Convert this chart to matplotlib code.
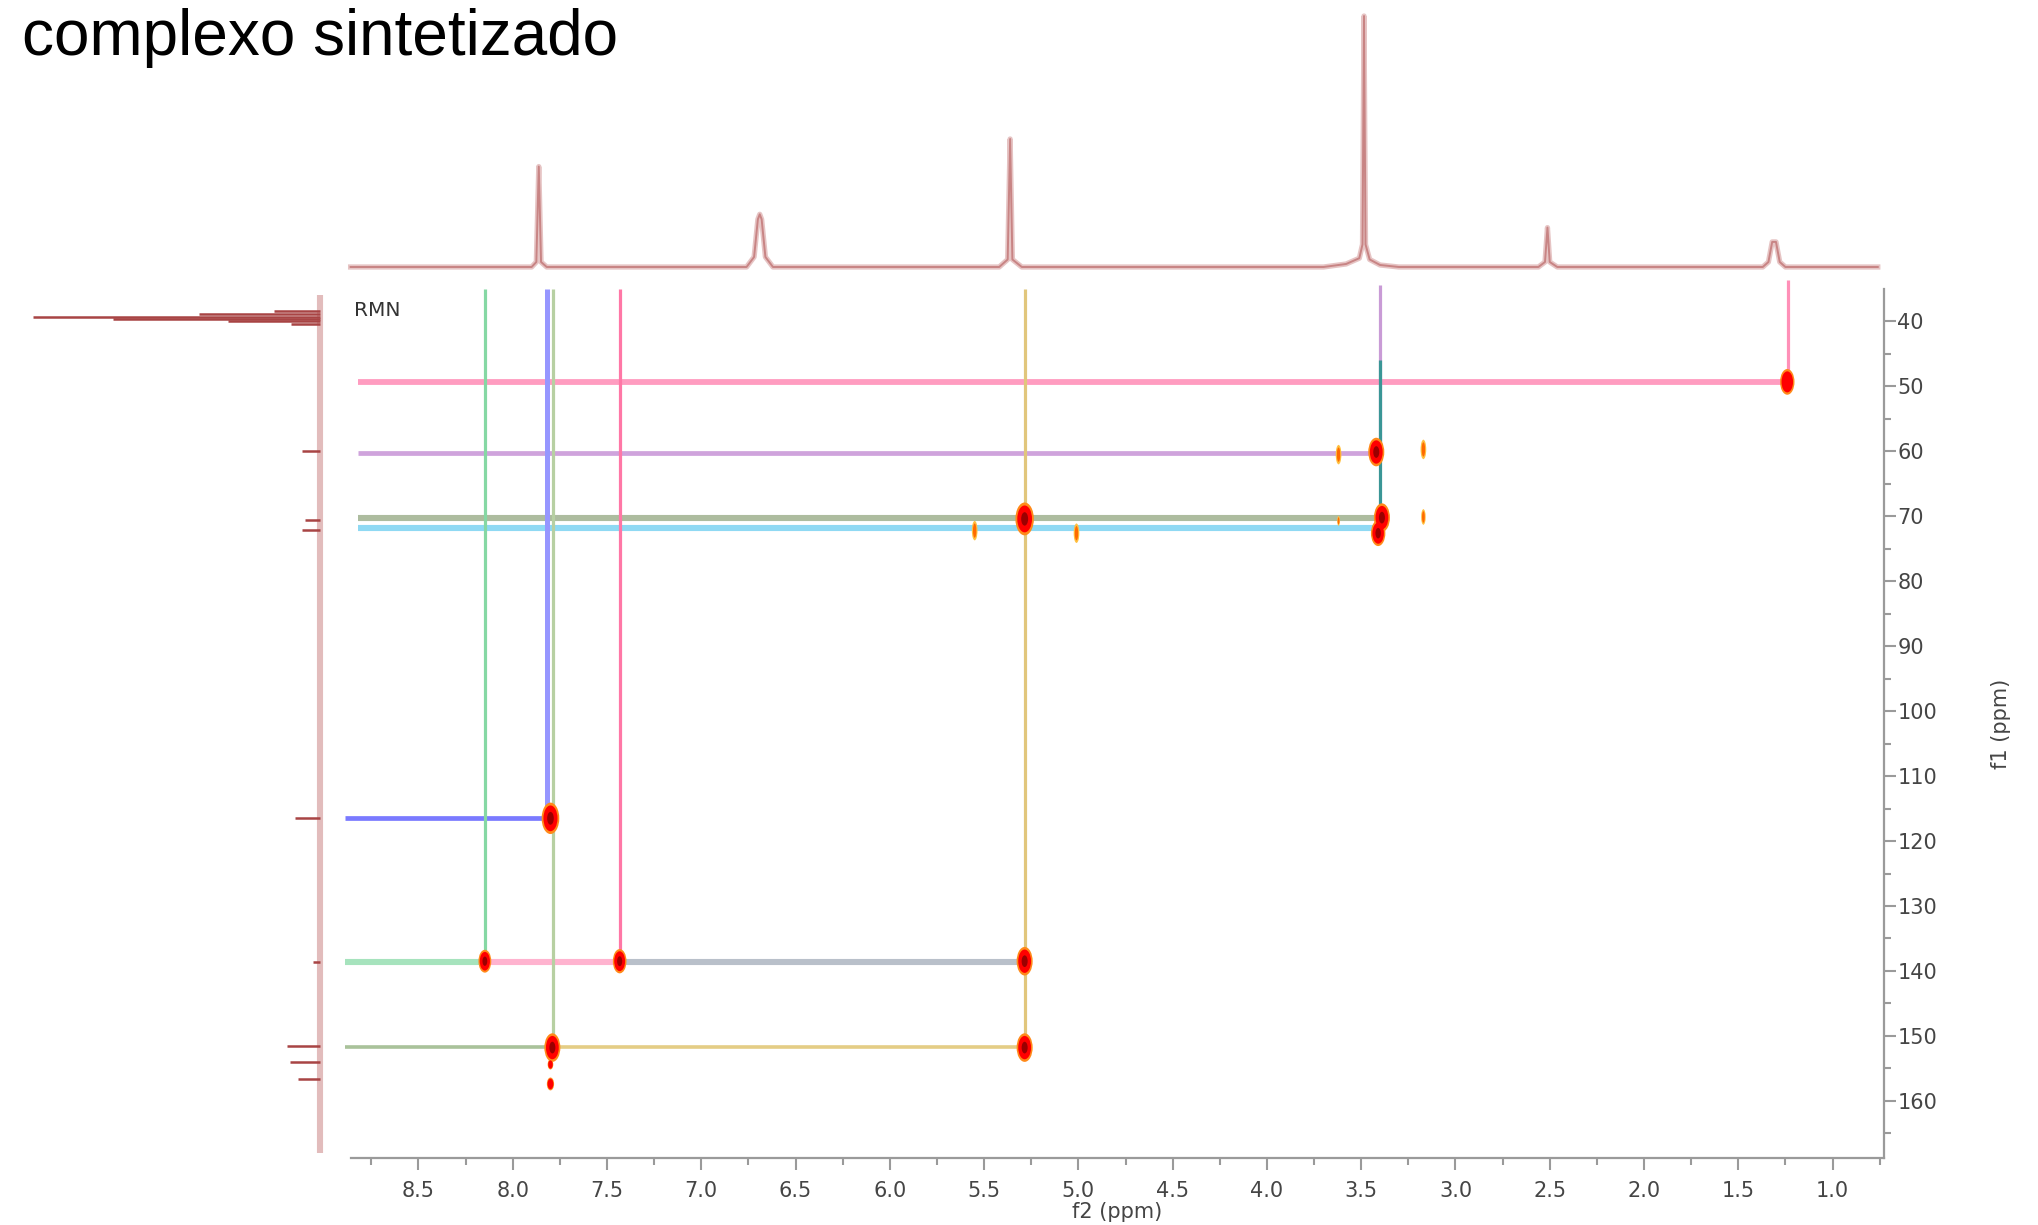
import numpy as np
import matplotlib
matplotlib.use("Agg")
import matplotlib.pyplot as plt
from matplotlib.patches import Ellipse

# ---------------- data ----------------
title_text = "complexo sintetizado"
xlabel_text = "f2 (ppm)"
ylabel_text = "f1 (ppm)"
corner_text = "RMN"

f2_major = [8.5, 8.0, 7.5, 7.0, 6.5, 6.0, 5.5, 5.0, 4.5, 4.0, 3.5, 3.0, 2.5, 2.0, 1.5, 1.0]
f2_labels = ["8.5", "8.0", "7.5", "7.0", "6.5", "6.0", "5.5", "5.0", "4.5", "4.0",
             "3.5", "3.0", "2.5", "2.0", "1.5", "1.0"]
f2_minor = [8.75, 8.25, 7.75, 7.25, 6.75, 6.25, 5.75, 5.25, 4.75, 4.25, 3.75, 3.25,
            2.75, 2.25, 1.75, 1.25, 0.75]
f1_major = [40, 50, 60, 70, 80, 90, 100, 110, 120, 130, 140, 150, 160]
f1_labels = ["40", "50", "60", "70", "80", "90", "100", "110", "120", "130", "140", "150", "160"]
f1_minor = [45, 55, 65, 75, 85, 95, 105, 115, 125, 135, 145, 155, 165]

# 1H projection (top), vertices
top_ppm = [8.86, 7.90, 7.875, 7.862, 7.85, 7.82,
           6.76, 6.72, 6.70, 6.69, 6.68, 6.66, 6.62,
           5.42, 5.375, 5.362, 5.35, 5.30,
           3.70, 3.58, 3.51, 3.493, 3.485, 3.477, 3.455, 3.40, 3.30,
           2.56, 2.525, 2.512, 2.50, 2.46,
           1.37, 1.34, 1.32, 1.30, 1.28, 1.25, 0.76]
top_int = [0, 0, 0.02, 0.40, 0.02, 0,
           0, 0.04, 0.19, 0.21, 0.19, 0.04, 0,
           0, 0.03, 0.51, 0.03, 0,
           0, 0.012, 0.035, 0.09, 1.0, 0.09, 0.03, 0.008, 0,
           0, 0.02, 0.157, 0.02, 0,
           0, 0.02, 0.10, 0.10, 0.02, 0, 0]

# 13C projection (left), stick peaks
left_f1 = [38.4, 38.9, 39.3, 39.6, 40.0, 40.4, 60.0, 70.5, 72.1, 116.4, 138.6,
           151.5, 154.0, 156.6]
left_int = [0.16, 0.42, 1.0, 0.72, 0.32, 0.10, 0.063, 0.052, 0.063, 0.087, 0.025,
            0.115, 0.105, 0.077]
left_base = [36.0, 168.0]

# correlation lines (horizontal): f1, from f2, to f2
h_f1 = [49.3, 60.2, 70.3, 71.8, 116.4, 138.6, 138.6, 138.6, 151.7, 151.7]
h_from = [8.82, 8.82, 8.82, 8.82, 8.89, 8.89, 8.148, 7.433, 8.89, 7.787]
h_to = [1.235, 3.42, 3.39, 3.40, 7.80, 8.148, 7.433, 5.285, 7.787, 5.285]
# correlation lines (vertical): f2, from f1, to f1
v_f2 = [8.148, 7.82, 7.787, 7.433, 5.285, 3.399, 1.235, 3.399]
v_from = [35.0, 35.0, 35.0, 35.0, 35.0, 34.4, 33.6, 46.0]
v_to = [138.6, 116.4, 151.7, 138.6, 151.7, 60.2, 49.3, 72.4]

# cross peaks (strong)
pk_f2 = [1.24, 3.42, 3.39, 3.41, 5.285, 7.80, 8.148, 7.433, 5.285, 7.79, 5.285, 7.80, 7.80]
pk_f1 = [49.3, 60.1, 70.2, 72.6, 70.4, 116.5, 138.5, 138.5, 138.5, 151.8, 151.8, 154.4, 157.4]
pk_size = [0.9, 1.0, 1.0, 0.9, 1.15, 1.1, 0.8, 0.85, 1.0, 1.0, 1.0, 0.35, 0.45]
pk_core = [0, 1, 1, 1, 1, 1, 1, 1, 1, 1, 1, 0, 0]
# cross peaks (weak)
wk_f2 = [3.62, 3.17, 3.17, 3.62, 5.55, 5.01]
wk_f1 = [60.5, 59.7, 70.1, 70.7, 72.2, 72.6]
wk_size = [1.0, 1.0, 0.8, 0.5, 1.0, 1.0]

# ---------------- styles ----------------
h_colors = ["#ff9cc0", "#cfa3dc", "#adbc9f", "#8fd9f3", "#7a7aff", "#a6e3bd",
            "#ffb3cf", "#b9c0ca", "#a9c29a", "#e4cd85"]
h_widths = [4.2, 3.4, 4.4, 4.4, 3.4, 4.4, 4.4, 4.4, 2.6, 2.6]
v_colors = ["#86d8a4", "#9696ff", "#b7d0a2", "#ff77a6", "#e1c67c", "#c99bd6", "#ff90b8", "#3a9696"]
v_widths = [2.3, 3.6, 2.3, 2.3, 2.3, 2.3, 2.3, 2.3]

W, H = 2038, 1225
L, R, T, B = 351, 1884, 289, 1158
F2_LEFT, F2_RIGHT = 8.858, 0.727
F1_TOP, F1_BOTTOM = 35.0, 168.8
tick_col = "#9a9a9a"
lab_col = "#454545"

fig = plt.figure(figsize=(W / 100, H / 100), dpi=100)

# ---------------- main 2D axes ----------------
ax = fig.add_axes([L / W, 1 - B / H, (R - L) / W, (B - T) / H])
ax.set_xlim(F2_LEFT, F2_RIGHT)
ax.set_ylim(F1_BOTTOM, F1_TOP)
for s in ["top", "left"]:
    ax.spines[s].set_visible(False)
for s in ["bottom", "right"]:
    ax.spines[s].set_color(tick_col)
    ax.spines[s].set_linewidth(1.6)
ax.yaxis.tick_right()
ax.yaxis.set_label_position("right")
ax.set_xticks(f2_major)
ax.set_xticklabels(f2_labels)
ax.set_xticks(f2_minor, minor=True)
ax.set_yticks(f1_major)
ax.set_yticklabels(f1_labels)
ax.set_yticks(f1_minor, minor=True)
ax.tick_params(axis="x", which="major", direction="out", length=8.6, width=1.5,
               color=tick_col, labelsize=15, labelcolor=lab_col, pad=8)
ax.tick_params(axis="x", which="minor", direction="out", length=5, width=1.5, color=tick_col)
ax.tick_params(axis="y", which="major", direction="out", length=8.6, width=1.5,
               color=tick_col, labelsize=15, labelcolor=lab_col, pad=1)
ax.tick_params(axis="y", which="minor", direction="out", length=5, width=1.5, color=tick_col)
for t in ax.get_xticklabels() + ax.get_yticklabels():
    t.set_family("DejaVu Sans")
ax.set_xlabel(xlabel_text, fontsize=15, color=lab_col, labelpad=1)
ax.set_ylabel(ylabel_text, fontsize=15, color=lab_col, rotation=90)
ax.yaxis.set_label_coords(1.07, 0.5)

# correlation lines
for y, a, b, c, w in zip(h_f1, h_from, h_to, h_colors, h_widths):
    ax.plot([a, b], [y, y], color=c, lw=w, solid_capstyle="butt", clip_on=False, zorder=2)
for x, a, b, c, w in zip(v_f2, v_from, v_to, v_colors, v_widths):
    ax.plot([x, x], [a, b], color=c, lw=w, solid_capstyle="butt", clip_on=False, zorder=3)

# cross peaks
for x, y, s, core in zip(pk_f2, pk_f1, pk_size, pk_core):
    ax.add_patch(Ellipse((x, y), 0.085 * s, 4.4 * s, facecolor="#ff8a1a", edgecolor="none", zorder=5))
    ax.add_patch(Ellipse((x, y), 0.068 * s, 3.6 * s, facecolor="#ff0000", edgecolor="none", zorder=6))
    if core:
        ax.add_patch(Ellipse((x, y), 0.032 * s, 1.8 * s, facecolor="#9a0000", edgecolor="none", zorder=7))
for x, y, s in zip(wk_f2, wk_f1, wk_size):
    ax.add_patch(Ellipse((x, y), 0.03 * s, 3.0 * s, facecolor="#ffc040", edgecolor="none", zorder=5))
    ax.add_patch(Ellipse((x, y), 0.018 * s, 2.2 * s, facecolor="#ff6a00", edgecolor="none", zorder=6))

# ---------------- top 1H projection ----------------
axt = fig.add_axes([L / W, 1 - 267 / H, (R - L) / W, (267 - 16) / H])
axt.set_xlim(F2_LEFT, F2_RIGHT)
axt.set_ylim(0, 1)
axt.axis("off")
axt.plot(top_ppm, top_int, color="#e6c4c4", lw=3.8, clip_on=False, solid_joinstyle="round")
axt.plot(top_ppm, top_int, color="#c88484", lw=1.4, clip_on=False)

# ---------------- left 13C projection ----------------
axl = fig.add_axes([33 / W, 1 - B / H, (320 - 33) / W, (B - T) / H])
axl.set_xlim(1.0, 0.0)
axl.set_ylim(F1_BOTTOM, F1_TOP)
axl.axis("off")
axl.plot([0, 0], left_base, color="#e2bcbc", lw=4.4, clip_on=False, solid_capstyle="butt")
axl.hlines(left_f1, 0, left_int, colors="#a84444", lw=1.8, clip_on=False)

# ---------------- texts ----------------
fig.text(22 / W, 1 - 55 / H, title_text, fontsize=46, family="Liberation Sans",
         color="black", va="baseline", ha="left")
fig.text(354 / W, 1 - 316 / H, corner_text, fontsize=14.5, family="DejaVu Sans",
         color="#333333", va="baseline", ha="left")

fig.savefig("out.png", dpi=100)
